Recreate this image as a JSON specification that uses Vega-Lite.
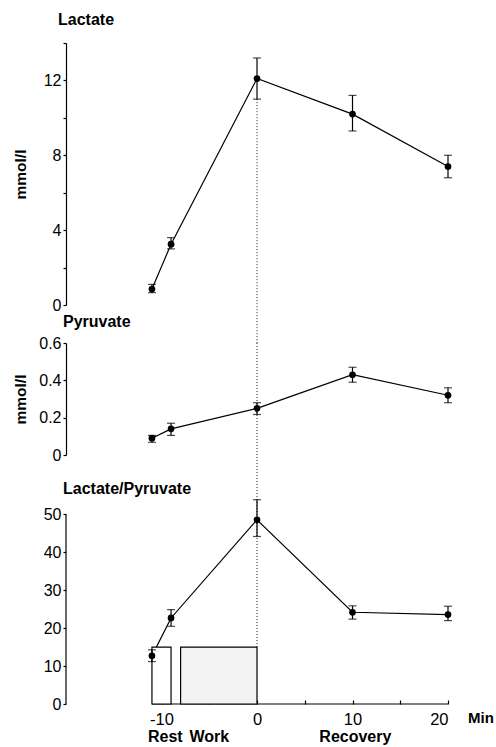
{
  "$schema": "https://vega.github.io/schema/vega-lite/v6.json",
  "padding": {"left": 12, "top": 12, "right": 5, "bottom": 5},
  "background": "white",
  "config": {
    "font": "Liberation Sans",
    "view": {"stroke": null},
    "axis": {
      "grid": false,
      "domainColor": "black", "domainWidth": 1.2,
      "tickColor": "black", "tickWidth": 1.2, "tickSize": 3,
      "labelColor": "black", "labelFontSize": 16, "labelPadding": 2,
      "titleColor": "black", "titleFontSize": 15.5, "titleFontWeight": "bold"
    },
    "title": {"anchor": "start", "frame": "group", "fontSize": 16, "fontWeight": "bold", "color": "black"}
  },
  "datasets": {
    "lactate": [
      {"t": -11, "v": 0.85, "lo": 0.66, "hi": 1.1},
      {"t": -9, "v": 3.25, "lo": 3.0, "hi": 3.6},
      {"t": 0, "v": 12.1, "lo": 11.0, "hi": 13.2},
      {"t": 10, "v": 10.2, "lo": 9.3, "hi": 11.2},
      {"t": 20, "v": 7.4, "lo": 6.8, "hi": 8.0}
    ],
    "pyruvate": [
      {"t": -11, "v": 0.09, "lo": 0.068, "hi": 0.105},
      {"t": -9, "v": 0.14, "lo": 0.105, "hi": 0.17},
      {"t": 0, "v": 0.25, "lo": 0.217, "hi": 0.28},
      {"t": 10, "v": 0.43, "lo": 0.39, "hi": 0.47},
      {"t": 20, "v": 0.32, "lo": 0.28, "hi": 0.36}
    ],
    "ratio": [
      {"t": -11, "v": 12.7, "lo": 11.2, "hi": 14.3},
      {"t": -9, "v": 22.7, "lo": 20.5, "hi": 24.9},
      {"t": 0, "v": 48.6, "lo": 44.2, "hi": 53.9},
      {"t": 10, "v": 24.2, "lo": 22.4, "hi": 25.9},
      {"t": 20, "v": 23.6, "lo": 22.0, "hi": 25.8}
    ],
    "phases": [
      {"phase": "Rest", "start": -11, "end": -9, "base": 0, "top": 15},
      {"phase": "Work", "start": -8, "end": 0, "base": 0, "top": 15}
    ],
    "labels": [
      {"label": "Rest", "t": -9.6, "base": 0},
      {"label": "Work", "t": -5.0, "base": 0},
      {"label": "Recovery", "t": 10.3, "base": 0}
    ],
    "unit": [{"label": "Min", "t": 20, "base": 0}],
    "guideLac": [{"t": 0, "from": 11, "to": -2.03}],
    "guidePyr": [{"t": 0, "from": 0.6, "to": -0.2035}],
    "guideRatio": [{"t": 0, "from": 55.67, "to": 15}],
    "yAxisLine": [{"t": -20, "from": 0, "to": 50}],
    "xAxisLine": [{"from": -11, "to": 20, "base": 0}]
  },
  "spacing": 38,
  "bounds": "flush",
  "resolve": {"scale": {"x": "independent", "y": "independent"}},
  "vconcat": [
    {
      "width": 382, "height": 262,
      "title": {"text": "Lactate", "dx": -8, "offset": 14},
      "layer": [
        {"data": {"name": "lactate"}, "mark": {"type": "line", "color": "black", "strokeWidth": 1.2},
         "encoding": {
           "x": {"field": "t", "type": "quantitative", "scale": {"domain": [-20, 20]}, "axis": null},
           "y": {"field": "v", "type": "quantitative", "scale": {"domain": [0, 14]},
                 "axis": {"values": [0, 2, 4, 6, 8, 10, 12, 14], "labelExpr": "datum.value % 4 == 0 ? '' + datum.value : ''", "title": "mmol/l", "titleX": -46, "titleBaseline": "middle"}}}},
        {"data": {"name": "guideLac"}, "mark": {"type": "rule", "strokeDash": [1, 2], "color": "#222", "strokeWidth": 1},
         "encoding": {"x": {"field": "t", "type": "quantitative", "scale": {"domain": [-20, 20]}, "axis": null},
                      "y": {"field": "from", "type": "quantitative", "scale": {"domain": [0, 14]}, "axis": {"values": [0, 2, 4, 6, 8, 10, 12, 14], "labelExpr": "datum.value % 4 == 0 ? '' + datum.value : ''", "title": "mmol/l", "titleX": -46, "titleBaseline": "middle"}}, "y2": {"field": "to"}}},
        {"data": {"name": "lactate"}, "mark": {"type": "rule", "color": "black", "strokeWidth": 1.2},
         "encoding": {"x": {"field": "t", "type": "quantitative", "scale": {"domain": [-20, 20]}, "axis": null},
                      "y": {"field": "lo", "type": "quantitative", "scale": {"domain": [0, 14]}, "axis": {"values": [0, 2, 4, 6, 8, 10, 12, 14], "labelExpr": "datum.value % 4 == 0 ? '' + datum.value : ''", "title": "mmol/l", "titleX": -46, "titleBaseline": "middle"}}, "y2": {"field": "hi"}}},
        {"data": {"name": "lactate"}, "mark": {"type": "tick", "orient": "horizontal", "size": 8, "thickness": 1.2, "color": "black"},
         "encoding": {"x": {"field": "t", "type": "quantitative", "scale": {"domain": [-20, 20]}, "axis": null},
                      "y": {"field": "lo", "type": "quantitative", "scale": {"domain": [0, 14]}, "axis": {"values": [0, 2, 4, 6, 8, 10, 12, 14], "labelExpr": "datum.value % 4 == 0 ? '' + datum.value : ''", "title": "mmol/l", "titleX": -46, "titleBaseline": "middle"}}}},
        {"data": {"name": "lactate"}, "mark": {"type": "tick", "orient": "horizontal", "size": 8, "thickness": 1.2, "color": "black"},
         "encoding": {"x": {"field": "t", "type": "quantitative", "scale": {"domain": [-20, 20]}, "axis": null},
                      "y": {"field": "hi", "type": "quantitative", "scale": {"domain": [0, 14]}, "axis": {"values": [0, 2, 4, 6, 8, 10, 12, 14], "labelExpr": "datum.value % 4 == 0 ? '' + datum.value : ''", "title": "mmol/l", "titleX": -46, "titleBaseline": "middle"}}}},
        {"data": {"name": "lactate"}, "mark": {"type": "circle", "size": 45, "color": "black", "opacity": 1},
         "encoding": {"x": {"field": "t", "type": "quantitative", "scale": {"domain": [-20, 20]}, "axis": null},
                      "y": {"field": "v", "type": "quantitative", "scale": {"domain": [0, 14]}, "axis": {"values": [0, 2, 4, 6, 8, 10, 12, 14], "labelExpr": "datum.value % 4 == 0 ? '' + datum.value : ''", "title": "mmol/l", "titleX": -46, "titleBaseline": "middle"}}}}
      ]
    },
    {
      "width": 382, "height": 112,
      "title": {"text": "Pyruvate", "dx": -3, "offset": 5},
      "layer": [
        {"data": {"name": "pyruvate"}, "mark": {"type": "line", "color": "black", "strokeWidth": 1.2},
         "encoding": {
           "x": {"field": "t", "type": "quantitative", "scale": {"domain": [-20, 20]}, "axis": null},
           "y": {"field": "v", "type": "quantitative", "scale": {"domain": [0, 0.6]},
                 "axis": {"values": [0, 0.2, 0.4, 0.6], "labelExpr": "datum.value == 0 ? '0' : format(datum.value, '.1f')", "labelOverlap": false, "title": "mmol/l", "titleX": -46, "titleBaseline": "middle"}}}},
        {"data": {"name": "guidePyr"}, "mark": {"type": "rule", "strokeDash": [1, 2], "color": "#222", "strokeWidth": 1},
         "encoding": {"x": {"field": "t", "type": "quantitative", "scale": {"domain": [-20, 20]}, "axis": null},
                      "y": {"field": "from", "type": "quantitative", "scale": {"domain": [0, 0.6]}, "axis": {"values": [0, 0.2, 0.4, 0.6], "labelExpr": "datum.value == 0 ? '0' : format(datum.value, '.1f')", "labelOverlap": false, "title": "mmol/l", "titleX": -46, "titleBaseline": "middle"}}, "y2": {"field": "to"}}},
        {"data": {"name": "pyruvate"}, "mark": {"type": "rule", "color": "black", "strokeWidth": 1.2},
         "encoding": {"x": {"field": "t", "type": "quantitative", "scale": {"domain": [-20, 20]}, "axis": null},
                      "y": {"field": "lo", "type": "quantitative", "scale": {"domain": [0, 0.6]}, "axis": {"values": [0, 0.2, 0.4, 0.6], "labelExpr": "datum.value == 0 ? '0' : format(datum.value, '.1f')", "labelOverlap": false, "title": "mmol/l", "titleX": -46, "titleBaseline": "middle"}}, "y2": {"field": "hi"}}},
        {"data": {"name": "pyruvate"}, "mark": {"type": "tick", "orient": "horizontal", "size": 8, "thickness": 1.2, "color": "black"},
         "encoding": {"x": {"field": "t", "type": "quantitative", "scale": {"domain": [-20, 20]}, "axis": null},
                      "y": {"field": "lo", "type": "quantitative", "scale": {"domain": [0, 0.6]}, "axis": {"values": [0, 0.2, 0.4, 0.6], "labelExpr": "datum.value == 0 ? '0' : format(datum.value, '.1f')", "labelOverlap": false, "title": "mmol/l", "titleX": -46, "titleBaseline": "middle"}}}},
        {"data": {"name": "pyruvate"}, "mark": {"type": "tick", "orient": "horizontal", "size": 8, "thickness": 1.2, "color": "black"},
         "encoding": {"x": {"field": "t", "type": "quantitative", "scale": {"domain": [-20, 20]}, "axis": null},
                      "y": {"field": "hi", "type": "quantitative", "scale": {"domain": [0, 0.6]}, "axis": {"values": [0, 0.2, 0.4, 0.6], "labelExpr": "datum.value == 0 ? '0' : format(datum.value, '.1f')", "labelOverlap": false, "title": "mmol/l", "titleX": -46, "titleBaseline": "middle"}}}},
        {"data": {"name": "pyruvate"}, "mark": {"type": "circle", "size": 45, "color": "black", "opacity": 1},
         "encoding": {"x": {"field": "t", "type": "quantitative", "scale": {"domain": [-20, 20]}, "axis": null},
                      "y": {"field": "v", "type": "quantitative", "scale": {"domain": [0, 0.6]}, "axis": {"values": [0, 0.2, 0.4, 0.6], "labelExpr": "datum.value == 0 ? '0' : format(datum.value, '.1f')", "labelOverlap": false, "title": "mmol/l", "titleX": -46, "titleBaseline": "middle"}}}}
      ]
    },
    {
      "width": 382, "height": 211,
      "title": {"text": "Lactate/Pyruvate", "dx": -3, "offset": -4},
      "layer": [
        {"data": {"name": "ratio"}, "mark": {"type": "line", "color": "black", "strokeWidth": 1.2},
         "encoding": {
           "x": {"field": "t", "type": "quantitative", "scale": {"domain": [-20, 20]},
                 "axis": {"domain": false, "values": [-10, -5, 0, 5, 10, 15, 20], "labelExpr": "datum.value % 10 == 0 ? '' + datum.value : ''", "tickSize": -4, "labelPadding": 11, "labelFontSize": 16.5, "title": null}},
           "y": {"field": "v", "type": "quantitative", "scale": {"domain": [0, 55.67]},
                 "axis": {"domain": false, "values": [0, 10, 20, 30, 40, 50], "title": null}}}},
        {"data": {"name": "yAxisLine"}, "mark": {"type": "rule", "color": "black", "strokeWidth": 1.2},
         "encoding": {"x": {"field": "t", "type": "quantitative", "scale": {"domain": [-20, 20]}}, "y": {"field": "from", "type": "quantitative", "scale": {"domain": [0, 55.67]}}, "y2": {"field": "to"}}},
        {"data": {"name": "xAxisLine"}, "mark": {"type": "rule", "color": "black", "strokeWidth": 1.2},
         "encoding": {"x": {"field": "from", "type": "quantitative", "scale": {"domain": [-20, 20]}}, "x2": {"field": "to"}, "y": {"field": "base", "type": "quantitative", "scale": {"domain": [0, 55.67]}}}},
        {"data": {"name": "phases"}, "mark": {"type": "rect", "stroke": "black", "strokeWidth": 1.2},
         "encoding": {"x": {"field": "start", "type": "quantitative", "scale": {"domain": [-20, 20]}}, "x2": {"field": "end"}, "y": {"field": "base", "type": "quantitative", "scale": {"domain": [0, 55.67]}}, "y2": {"field": "top"},
                      "fill": {"field": "phase", "type": "nominal", "scale": {"domain": ["Rest", "Work"], "range": ["white", "#f3f3f3"]}, "legend": null}}},
        {"data": {"name": "guideRatio"}, "mark": {"type": "rule", "strokeDash": [1, 2], "color": "#222", "strokeWidth": 1},
         "encoding": {"x": {"field": "t", "type": "quantitative", "scale": {"domain": [-20, 20]}}, "y": {"field": "from", "type": "quantitative", "scale": {"domain": [0, 55.67]}}, "y2": {"field": "to"}}},
        {"data": {"name": "ratio"}, "mark": {"type": "rule", "color": "black", "strokeWidth": 1.2},
         "encoding": {"x": {"field": "t", "type": "quantitative", "scale": {"domain": [-20, 20]}}, "y": {"field": "lo", "type": "quantitative", "scale": {"domain": [0, 55.67]}}, "y2": {"field": "hi"}}},
        {"data": {"name": "ratio"}, "mark": {"type": "tick", "orient": "horizontal", "size": 8, "thickness": 1.2, "color": "black"},
         "encoding": {"x": {"field": "t", "type": "quantitative", "scale": {"domain": [-20, 20]}}, "y": {"field": "lo", "type": "quantitative", "scale": {"domain": [0, 55.67]}}}},
        {"data": {"name": "ratio"}, "mark": {"type": "tick", "orient": "horizontal", "size": 8, "thickness": 1.2, "color": "black"},
         "encoding": {"x": {"field": "t", "type": "quantitative", "scale": {"domain": [-20, 20]}}, "y": {"field": "hi", "type": "quantitative", "scale": {"domain": [0, 55.67]}}}},
        {"data": {"name": "ratio"}, "mark": {"type": "circle", "size": 45, "color": "black", "opacity": 1},
         "encoding": {"x": {"field": "t", "type": "quantitative", "scale": {"domain": [-20, 20]}}, "y": {"field": "v", "type": "quantitative", "scale": {"domain": [0, 55.67]}}}},
        {"data": {"name": "unit"}, "mark": {"type": "text", "align": "left", "baseline": "middle", "dx": 20, "dy": 14, "fontSize": 15, "fontWeight": "bold", "color": "black"},
         "encoding": {"x": {"field": "t", "type": "quantitative", "scale": {"domain": [-20, 20]}}, "y": {"field": "base", "type": "quantitative", "scale": {"domain": [0, 55.67]}}, "text": {"field": "label"}}},
        {"data": {"name": "labels"}, "mark": {"type": "text", "align": "center", "baseline": "middle", "dy": 33, "fontSize": 16, "fontWeight": "bold", "color": "black"},
         "encoding": {"x": {"field": "t", "type": "quantitative", "scale": {"domain": [-20, 20]}}, "y": {"field": "base", "type": "quantitative", "scale": {"domain": [0, 55.67]}}, "text": {"field": "label"}}}
      ]
    }
  ]
}
